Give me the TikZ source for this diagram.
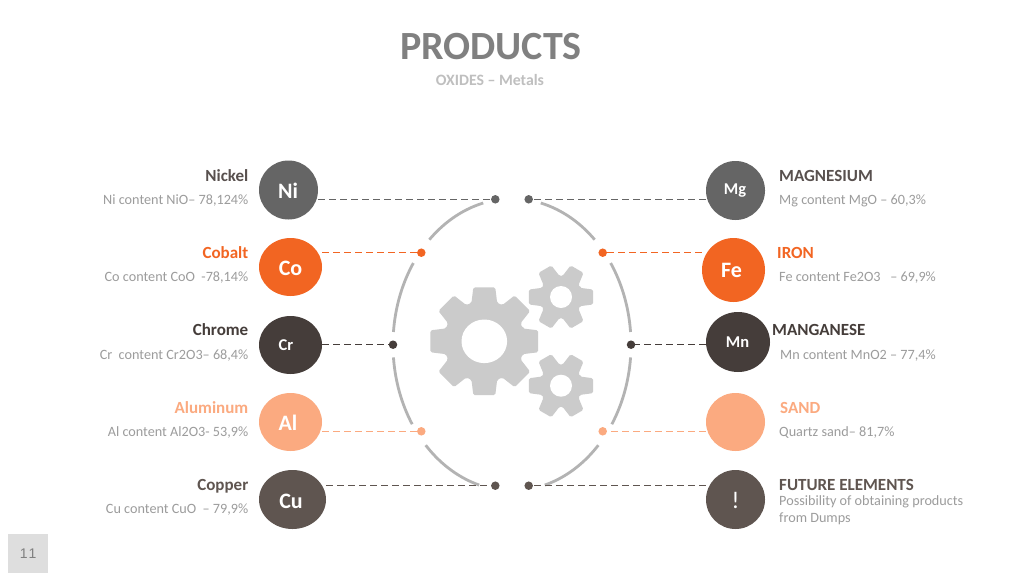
\documentclass[tikz,border=0pt]{standalone}
\usepackage{fontspec}
\setmainfont{Carlito}
\newfontfamily\arialfont{Liberation Sans}
\usetikzlibrary{shapes.geometric}
\definecolor{cNi}{HTML}{656565}
\definecolor{cCo}{HTML}{F26522}
\definecolor{cCr}{HTML}{453D3A}
\definecolor{cAl}{HTML}{FBAA80}
\definecolor{cCu}{HTML}{5F5550}
\definecolor{cArc}{HTML}{B3B3B3}
\definecolor{cGear}{HTML}{CBCBCB}
\definecolor{cSub}{HTML}{9C9C9C}
\tikzset{
  disc/.style={ellipse,inner sep=0pt,fill=#1},
  dot/.style={circle,inner sep=0pt,minimum size=8.5pt,fill=#1},
  link/.style={draw=#1,line width=1.4pt,dash pattern=on 6.5pt off 4.5pt},
  rim/.style={draw=cArc,line width=2.8pt,smooth},
  chem/.style={text=white,font=\bfseries\fontsize{22}{26}\selectfont},
  chemsmall/.style={text=white,font=\bfseries\fontsize{16.5}{19}\selectfont},
  headR/.style={anchor=base east,inner sep=0pt,font=\bfseries\fontsize{17}{20}\selectfont,text=#1},
  headL/.style={anchor=base west,inner sep=0pt,font=\bfseries\fontsize{17}{20}\selectfont,text=#1},
  subR/.style={anchor=base east,inner sep=0pt,font=\fontsize{14.2}{17}\selectfont,text=cSub},
  subL/.style={anchor=base west,inner sep=0pt,font=\fontsize{14.2}{17}\selectfont,text=cSub},
}
\newcommand{\gearshape}[7]{% cx cy n tip root tiphalf roothalf
  \begin{scope}[shift={(#1,#2)}]
    \pgfmathsetmacro{\stepang}{360/#3}
    \pgfmathtruncatemacro{\lastidx}{#3-1}
    \fill[cGear,rounded corners=1.6pt] (-#7:#5)
      \foreach \i in {0,...,\lastidx}{
        -- ({\i*\stepang-#7}:#5) -- ({\i*\stepang-#6}:#4)
        -- ({\i*\stepang+#6}:#4) -- ({\i*\stepang+#7}:#5)
      } -- cycle;
  \end{scope}}
\begin{document}
\begin{tikzpicture}[x=1pt,y=-1pt]
\useasboundingbox (0,0) rectangle (1024,576);
\fill[white] (0,0) rectangle (1024,576);

% title
\node[text=black!50,font=\bfseries\fontsize{40}{44}\selectfont] (title) at (491,47) {PRODUCTS};
\node[text=black!25,font=\bfseries\fontsize{15.8}{18}\selectfont] (subtitle) at (490,80) {OXIDES – Metals};

% rim
\foreach \a/\b in {104/134,146/175,185/213,223.5/254,76/46,34/5,-5/-33,-43.5/-74}{
  \draw[rim] plot[domain=\a:\b,samples=30] ({512+119*cos(\x)},{344.7-146*sin(\x)});
}

% gears
\gearshape{484.3}{341.3}{8}{55}{40.5}{11.5}{18.5}
\fill[white] (484.3,341.3) ellipse[x radius=22.8,y radius=21.8];
\gearshape{561}{297}{6}{33}{21}{13}{26}
\fill[white] (561,297) circle[radius=11];
\gearshape{561}{385.7}{6}{33}{21}{13}{26}
\fill[white] (561,385.7) circle[radius=11];

% dots
\node[dot=cNi] (dNi) at (495.3,199.3) {};
\node[dot=cNi] (dMg) at (528.7,199.3) {};
\node[dot=cCo] (dCo) at (421.3,252.7) {};
\node[dot=cCo] (dFe) at (602.7,252.7) {};
\node[dot=cCr] (dCr) at (393,344.7) {};
\node[dot=cCr] (dMn) at (631,344.7) {};
\node[dot=cAl] (dAl) at (421.3,431.3) {};
\node[dot=cAl] (dSa) at (602.7,431.3) {};
\node[dot=cCu] (dCu) at (495.3,485.7) {};
\node[dot=cCu] (dFu) at (528.7,485.7) {};

% discs
\node[disc=cNi,minimum width=59pt,minimum height=59pt] (Ni) at (288.5,190) {};
\node[disc=cCo,minimum width=63pt,minimum height=58pt] (Co) at (290.5,267) {};
\node[disc=cCr,minimum width=63pt,minimum height=58pt] (Cr) at (290.5,345) {};
\node[disc=cAl,minimum width=63pt,minimum height=58pt] (Al) at (290.5,422) {};
\node[disc=cCu,minimum width=67pt,minimum height=59pt] (Cu) at (292.5,499.5) {};
\node[disc=cNi,minimum width=59pt,minimum height=59pt] (Mg) at (735.5,190.5) {};
\node[disc=cCo,minimum width=63pt,minimum height=64pt] (Fe) at (733.5,270) {};
\node[disc=cCr,minimum width=64pt,minimum height=60pt] (Mn) at (738,342) {};
\node[disc=cAl,minimum width=59pt,minimum height=58pt] (Sa) at (735.5,422) {};
\node[disc=cCu,minimum width=59pt,minimum height=59pt] (Fu) at (735.5,499.5) {};

% connectors
\draw[link=cNi] (Ni.east |- dNi) -- (dNi);
\draw[link=cCo] (Co.east |- dCo) -- (dCo);
\draw[link=cCr] (Cr.east |- dCr) -- (dCr);
\draw[link=cAl] (Al.east |- dAl) -- (dAl);
\draw[link=cCu] (Cu.east |- dCu) -- (dCu);
\draw[link=cNi] (Mg.west |- dMg) -- (dMg);
\draw[link=cCo] (Fe.west |- dFe) -- (dFe);
\draw[link=cCr] (Mn.west |- dMn) -- (dMn);
\draw[link=cAl] (Sa.west |- dSa) -- (dSa);
\draw[link=cCu] (Fu.west |- dFu) -- (dFu);

% symbols
\node[chem] (tNi) at (288,191) {Ni};
\node[chem] (tCo) at (290.5,268) {Co};
\node[chemsmall] (tCr) at (286,345) {Cr};
\node[chem] (tAl) at (288,423) {Al};
\node[chem] (tCu) at (291,501) {Cu};
\node[chemsmall] (tMg) at (735,191) {Mg};
\node[chem] (tFe) at (731.5,270) {Fe};
\node[chemsmall] (tMn) at (737.5,342) {Mn};
\node[text=white,font=\fontsize{24}{28}\selectfont] (tFu) at (735.5,500) {!};

% left labels
\node[headR=cCr!90] (lNi) at (248.5,181.5) {Nickel};
\node[subR] (sNi) at (248.5,204) {Ni content NiO– 78,124\%};
\node[headR=cCo] (lCo) at (248.5,258.5) {Cobalt};
\node[subR] (sCo) at (248.5,281) {Co content CoO\ \ -78,14\%};
\node[headR=cCr] (lCr) at (248.5,335.5) {Chrome};
\node[subR] (sCr) at (248.5,359) {Cr\ \ content Cr2O3– 68,4\%};
\node[headR=cAl] (lAl) at (248.5,413) {Aluminum};
\node[subR] (sAl) at (248.5,436) {Al content Al2O3- 53,9\%};
\node[headR=cCu] (lCu) at (248.5,490.5) {Copper};
\node[subR] (sCu) at (248.5,513) {Cu content CuO\ \ – 79,9\%};

% right labels
\node[headL=cCr!90] (lMg) at (779,181.5) {MAGNESIUM};
\node[subL] (sMg) at (779,204) {Mg content MgO – 60,3\%};
\node[headL=cCo] (lFe) at (777,258.5) {IRON};
\node[subL] (sFe) at (779,281) {Fe content Fe2O3\ \ \ – 69,9\%};
\node[headL=cCr] (lMn) at (772,335.5) {MANGANESE};
\node[subL] (sMn) at (780,359) {Mn content MnO2 – 77,4\%};
\node[headL=cAl] (lSa) at (780,413) {SAND};
\node[subL] (sSa) at (779,436) {Quartz sand– 81,7\%};
\node[headL=cCu] (lFu) at (779,490.5) {FUTURE ELEMENTS};
\node[subL] (sFu) at (779,505) {Possibility of obtaining products};
\node[subL] (sFv) at (779,522) {from Dumps};

% page number
\node[fill=black!13,minimum width=40pt,minimum height=39pt,inner sep=0pt,text=black!50,font=\arialfont\fontsize{14}{16}\selectfont,anchor=north west] (page) at (8,534) {1\kern1pt 1};
\end{tikzpicture}
\end{document}
